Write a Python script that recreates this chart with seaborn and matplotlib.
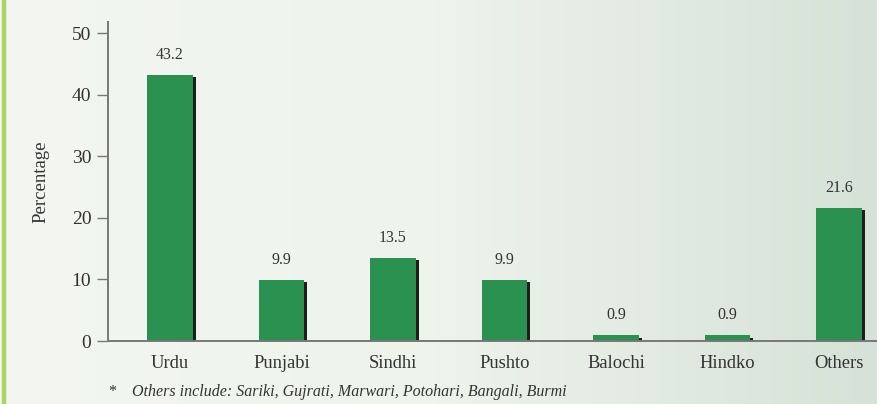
import numpy as np
import pandas as pd
import matplotlib
matplotlib.use("Agg")
import matplotlib.pyplot as plt
import matplotlib.patheffects as pe
from matplotlib.colors import LinearSegmentedColormap
import seaborn as sns

languages = ["Urdu", "Punjabi", "Sindhi", "Pushto", "Balochi", "Hindko", "Others"]
percentages = [43.2, 9.9, 13.5, 9.9, 0.9, 0.9, 21.6]
value_labels = ["43.2", "9.9", "13.5", "9.9", "0.9", "0.9", "21.6"]
y_ticks = [0, 10, 20, 30, 40, 50]
y_label = "Percentage"
footnote_mark = "*"
footnote = "Others include: Sariki, Gujrati, Marwari, Potohari, Bangali, Burmi"

df = pd.DataFrame({"language": languages, "pct": percentages})

sns.set_theme(style="white")
plt.rcParams["font.family"] = ["Liberation Serif", "DejaVu Serif"]

W, H = 877, 404
fig = plt.figure(figsize=(W / 100, H / 100), dpi=100)

# background gradient
bg = fig.add_axes([0, 0, 1, 1], zorder=-10)
cmap = LinearSegmentedColormap.from_list("bg", ["#f3f6f1", "#eef3ec", "#d6e2d7"])
grad = np.linspace(0, 1, 256).reshape(1, -1)
bg.imshow(grad, aspect="auto", cmap=cmap, extent=[0, 1, 0, 1])
bg.axvspan(0.0025, 0.006, color="#a8d468")
bg.set_xlim(0, 1)
bg.set_ylim(0, 1)
bg.axis("off")

left, bottom, top = 108, 341, 22
ax = fig.add_axes([left / W, (H - bottom) / H, (W - left) / W, (bottom - top) / H])
ax.set_facecolor("none")

sns.barplot(data=df, x="language", y="pct", color="#2a9150", saturation=1,
            width=0.41, ax=ax, zorder=3)
for p in ax.patches:
    p.set_path_effects([pe.SimplePatchShadow(offset=(2.2, -1.6), shadow_rgbFace="#1e1e1e", alpha=1.0),
                        pe.Normal()])
    p.set_linewidth(0)

for i, (v, t) in enumerate(zip(percentages, value_labels)):
    ax.text(i, v + 2.0, t, ha="center", va="bottom", fontsize=11.5, color="#333333")

ax.set_xlim(-0.555, 6.34)
ax.set_ylim(0, 51.8)
ax.set_yticks(y_ticks)
ax.set_yticklabels([str(t) for t in y_ticks], fontsize=14, color="#333333")
ax.tick_params(axis="y", which="both", left=True, length=8, width=1, color="#777777", pad=4)
ax.tick_params(axis="x", bottom=False, labelsize=13.3, labelcolor="#333333", pad=4)
ax.set_xlabel("")
ax.set_ylabel(y_label, fontsize=13.5, color="#333333", labelpad=16)
for s in ["top", "right"]:
    ax.spines[s].set_visible(False)
for s in ["left", "bottom"]:
    ax.spines[s].set_color("#777777")
    ax.spines[s].set_linewidth(1.4)
    ax.spines[s].set_zorder(5)

fig.text(108 / W, 1 - 392 / H, footnote_mark, fontsize=11.5, color="#333333", va="center", ha="left")
fig.text(132 / W, 1 - 392 / H, footnote, fontsize=11.5, style="italic", color="#333333", va="center", ha="left")

fig.savefig("out.png", dpi=100)
